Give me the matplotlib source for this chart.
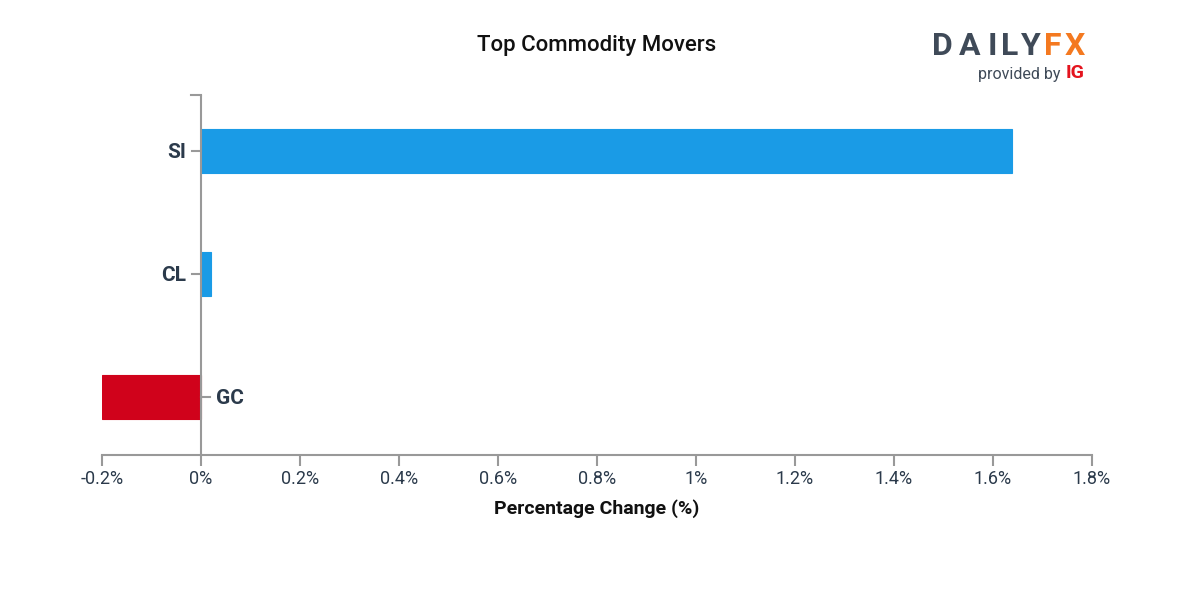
import matplotlib
matplotlib.use('Agg')
import matplotlib.pyplot as plt

# data
symbols = ['GC', 'CL', 'SI']
changes = [-0.2, 0.02, 1.638]
x_ticks = [-0.2, 0, 0.2, 0.4, 0.6, 0.8, 1.0, 1.2, 1.4, 1.6, 1.8]
x_tick_labels = ['-0.2%', '0%', '0.2%', '0.4%', '0.6%', '0.8%', '1%', '1.2%', '1.4%', '1.6%', '1.8%']

plt.rcParams['font.family'] = ['Roboto', 'DejaVu Sans']

text_col = '#2b3a4b'
axis_col = '#999999'
pos_col = '#1a9be6'
neg_col = '#d0021b'

fig = plt.figure(figsize=(12, 6), dpi=100)
ax = fig.add_axes([102 / 1200, 1 - 455 / 600, 990 / 1200, 360 / 600])

ypos = list(range(len(symbols)))
colors = [pos_col if v >= 0 else neg_col for v in changes]
ax.barh(ypos, changes, height=0.36, color=colors, edgecolor=colors, linewidth=0.8)

ax.set_xlim(-0.2, 1.8)
ax.set_ylim(-0.4715, 2.455)

for s in ['top', 'right', 'left']:
    ax.spines[s].set_visible(False)
ax.spines['bottom'].set_color(axis_col)
ax.spines['bottom'].set_linewidth(1.5)

# y axis drawn at zero
ax.axvline(0, color=axis_col, lw=1.5, zorder=3)
ax.plot([-0.02, 0], [2.455, 2.455], color=axis_col, lw=1.5, clip_on=False)

ax.set_xticks(x_ticks)
ax.set_xticklabels(x_tick_labels)
ax.tick_params(axis='x', colors=axis_col, length=8, width=1.5, labelsize=13,
               labelcolor=text_col, pad=3)
ax.set_yticks([])

# category labels next to the zero line
tick_len = 0.019
gap = 0.03
for y, s, v in zip(ypos, symbols, changes):
    if v >= 0:
        ax.plot([-tick_len, 0], [y, y], color=axis_col, lw=1.5, clip_on=False)
        ax.text(-gap, y - 0.015, s, ha='right', va='center', fontsize=15,
                fontweight='bold', color=text_col)
    else:
        ax.plot([0, tick_len], [y, y], color=axis_col, lw=1.5, clip_on=False)
        ax.text(gap, y - 0.015, s, ha='left', va='center', fontsize=15,
                fontweight='bold', color=text_col)

ax.set_xlabel('Percentage Change (%)', fontsize=14, fontweight='bold',
              color='#111111', labelpad=8)

fig.text(597 / 1200, 1 - 46 / 600, 'Top Commodity Movers', ha='center', va='center',
         fontsize=16, fontweight='medium', color='#111111')

# logo
logo_letters = ['D', 'A', 'I', 'L', 'Y', 'F', 'X']
logo_x = [942, 970, 992, 1010, 1031, 1053, 1075]
for ch, lx in zip(logo_letters, logo_x):
    col = '#f47920' if ch in 'FX' else '#3f4a58'
    fig.text(lx / 1200, 1 - 46 / 600, ch, ha='center', va='center',
             fontsize=23, fontweight='bold', color=col)
fig.text(1060 / 1200, 1 - 74 / 600, 'provided by', ha='right', va='center',
         fontsize=11.5, color='#3f4a58')
fig.text(1066 / 1200, 1 - 73 / 600, 'IG', ha='left', va='center',
         fontsize=14, fontweight='bold', color='#e4141e')

fig.savefig('out.png', dpi=100, facecolor='white')
